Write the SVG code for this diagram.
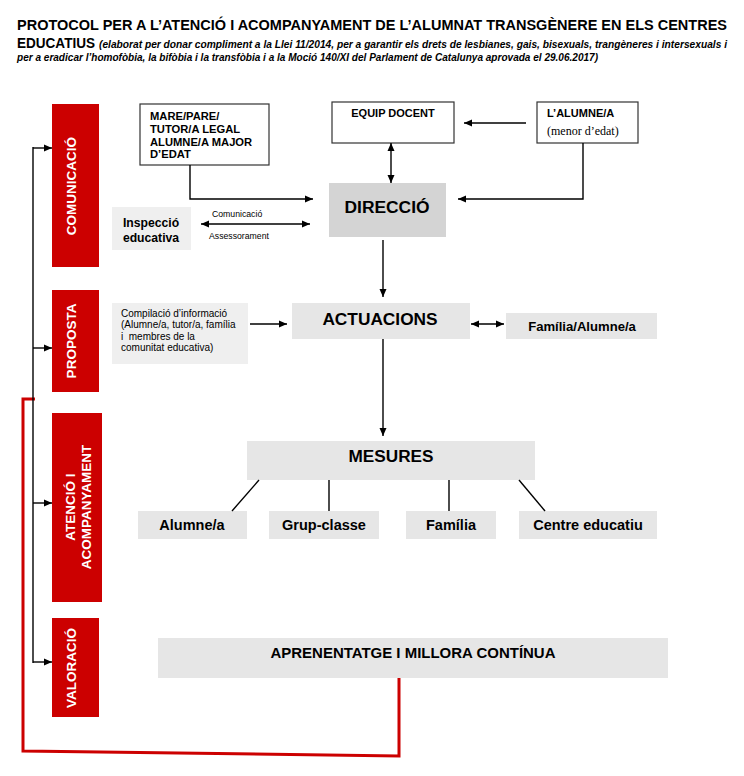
<svg xmlns="http://www.w3.org/2000/svg" width="744" height="776" viewBox="0 0 744 776">
<defs>
<style>
text{font-family:"Liberation Sans",Arial,sans-serif;fill:#000}
.b{font-weight:bold}
.bar{fill:#cc0000}
.bt{font-weight:bold;font-size:13.5px;fill:#fff;text-anchor:middle}
.box{fill:#fff;stroke:#333;stroke-width:1.2}
.g1{fill:#e6e6e6}
.g2{fill:#efefef}
.g3{fill:#d4d4d4}
.c{stroke:#000;stroke-width:1.4;fill:none}
.red{stroke:#cc0000;stroke-width:3;fill:none}
.m{text-anchor:middle}
</style>
<marker id="ah" markerUnits="userSpaceOnUse" markerWidth="8" markerHeight="8" refX="8" refY="4" orient="auto-start-reverse">
<path d="M0,0.5 L8,4 L0,7.5 z" fill="#000"/>
</marker>
</defs>
<rect width="744" height="776" fill="#fff"/>

<g id="title">
<text x="17" y="30" class="b" font-size="14" textLength="710" lengthAdjust="spacingAndGlyphs">PROTOCOL PER A L’ATENCIÓ I ACOMPANYAMENT DE L’ALUMNAT TRANSGÈNERE EN ELS CENTRES</text>
<text x="17" y="48" class="b" font-size="14" textLength="78" lengthAdjust="spacingAndGlyphs">EDUCATIUS</text>
<text x="99" y="48" class="b" font-style="italic" font-size="10.5" textLength="628" lengthAdjust="spacingAndGlyphs">(elaborat per donar compliment a la Llei 11/2014, per a garantir els drets de lesbianes, gais, bisexuals, trangèneres i intersexuals i</text>
<text x="17" y="61" class="b" font-style="italic" font-size="10.5" textLength="581" lengthAdjust="spacingAndGlyphs">per a eradicar l’homofòbia, la bifòbia i la transfòbia i a la Moció 140/XI  del Parlament de Catalunya aprovada el 29.06.2017)</text>
</g>

<g id="stage-comunicacio">
<rect class="bar" x="52" y="104" width="47" height="163"/>
<text class="bt" transform="translate(76,186) rotate(-90)">COMUNICACIÓ</text>
</g>
<g id="stage-proposta">
<rect class="bar" x="52" y="290" width="47" height="102"/>
<text class="bt" transform="translate(76,341) rotate(-90)">PROPOSTA</text>
</g>
<g id="stage-atencio">
<rect class="bar" x="52" y="413" width="50" height="189"/>
<text class="bt" transform="translate(75,507) rotate(-90)">ATENCIÓ I</text>
<text class="bt" transform="translate(91,507) rotate(-90)">ACOMPANYAMENT</text>
</g>
<g id="stage-valoracio">
<rect class="bar" x="52" y="618" width="47" height="99"/>
<text class="bt" transform="translate(76,668) rotate(-90)">VALORACIÓ</text>
</g>

<g id="mare-pare">
<rect class="box" x="140" y="104" width="129" height="61"/>
<text x="150" y="120" class="b" font-size="11.2">MARE/PARE/</text>
<text x="150" y="133" class="b" font-size="11.2">TUTOR/A LEGAL</text>
<text x="150" y="146" class="b" font-size="11.2">ALUMNE/A MAJOR</text>
<text x="150" y="158" class="b" font-size="11.2">D’EDAT</text>
</g>
<g id="equip-docent">
<rect class="box" x="332" y="102" width="122" height="41"/>
<text x="393" y="117" class="b m" font-size="11">EQUIP DOCENT</text>
</g>
<g id="alumne-menor">
<rect class="box" x="537" y="102" width="101" height="41"/>
<text x="547" y="117" class="b" font-size="11">L’ALUMNE/A</text>
<text x="547" y="135" font-size="12" style="font-family:'Liberation Serif','Times New Roman',serif">(menor d’edat)</text>
</g>
<g id="direccio">
<rect class="g3" x="329" y="183" width="117" height="54"/>
<text x="387" y="213" class="b m" font-size="17.4">DIRECCIÓ</text>
</g>
<g id="inspeccio">
<rect class="g2" x="112" y="207" width="79" height="43"/>
<text x="151" y="227" class="b m" font-size="12.2">Inspecció</text>
<text x="151" y="242" class="b m" font-size="12.2">educativa</text>
</g>
<g id="compilacio">
<rect class="g2" x="112" y="303" width="136" height="61"/>
<text x="121" y="317" font-size="10">Compilació d’informació</text>
<text x="121" y="328" font-size="10">(Alumne/a, tutor/a, família</text>
<text x="121" y="340" font-size="10" xml:space="preserve">i  membres de la</text>
<text x="121" y="351" font-size="10">comunitat educativa)</text>
</g>
<g id="actuacions">
<rect class="g1" x="292" y="303" width="178" height="36"/>
<text x="380" y="325" class="b m" font-size="17.3">ACTUACIONS</text>
</g>
<g id="familia-alumne">
<rect class="g1" x="506" y="313" width="151" height="26"/>
<text x="582" y="331" class="b m" font-size="13.1">Família/Alumne/a</text>
</g>
<g id="mesures">
<rect class="g1" x="247" y="441" width="288" height="39"/>
<text x="391" y="462" class="b m" font-size="17.2">MESURES</text>
</g>
<g id="m-alumne">
<rect class="g1" x="138" y="511" width="109" height="28"/>
<text x="192" y="530" class="b m" font-size="14.5">Alumne/a</text>
</g>
<g id="m-grup">
<rect class="g1" x="269" y="511" width="110" height="28"/>
<text x="324" y="530" class="b m" font-size="14.5">Grup-classe</text>
</g>
<g id="m-familia">
<rect class="g1" x="406" y="511" width="90" height="28"/>
<text x="451" y="530" class="b m" font-size="14.5">Família</text>
</g>
<g id="m-centre">
<rect class="g1" x="519" y="511" width="138" height="28"/>
<text x="588" y="530" class="b m" font-size="14.5">Centre educatiu</text>
</g>
<g id="aprenentatge">
<rect class="g1" x="158" y="638" width="510" height="40"/>
<text x="413" y="658" class="b m" font-size="15" textLength="285" lengthAdjust="spacingAndGlyphs">APRENENTATGE I MILLORA CONTÍNUA</text>
</g>

<g id="connectors">
<path class="red" d="M35,399 H23 V751 L399,756 V678"/>
<line class="c" stroke-width="2" x1="33" y1="147" x2="33" y2="663"/>
<line class="c" x1="33" y1="148" x2="52" y2="148" marker-end="url(#ah)"/>
<line class="c" x1="33" y1="348" x2="52" y2="348" marker-end="url(#ah)"/>
<line class="c" x1="33" y1="503" x2="52" y2="503" marker-end="url(#ah)"/>
<line class="c" x1="33" y1="662" x2="52" y2="662" marker-end="url(#ah)"/>
<path class="c" d="M190,165 V199 H313" marker-end="url(#ah)"/>
<line class="c" x1="201" y1="224" x2="310" y2="224" marker-start="url(#ah)" marker-end="url(#ah)"/>
<text x="212" y="217" font-size="8.7">Comunicació</text>
<text x="209" y="239" font-size="8.7">Assessorament</text>
<line class="c" x1="526" y1="123" x2="464" y2="123" marker-end="url(#ah)"/>
<line class="c" stroke-width="2.5" x1="391" y1="143" x2="391" y2="183" marker-start="url(#ah)" marker-end="url(#ah)"/>
<path class="c" d="M583,143 V199 H458" marker-end="url(#ah)"/>
<line class="c" stroke-width="2" x1="383" y1="240" x2="383" y2="297" marker-end="url(#ah)"/>
<line class="c" x1="250" y1="324" x2="287" y2="324" marker-end="url(#ah)"/>
<line class="c" x1="471" y1="324" x2="504" y2="324" marker-start="url(#ah)" marker-end="url(#ah)"/>
<line class="c" stroke-width="2" x1="383" y1="339" x2="383" y2="436" marker-end="url(#ah)"/>
<line class="c" stroke-width="2" x1="259" y1="480" x2="232" y2="511"/>
<line class="c" stroke-width="2" x1="329" y1="480" x2="329" y2="511"/>
<line class="c" stroke-width="2" x1="449" y1="480" x2="449" y2="511"/>
<line class="c" stroke-width="2" x1="519" y1="480" x2="545" y2="511"/>
</g>
</svg>
